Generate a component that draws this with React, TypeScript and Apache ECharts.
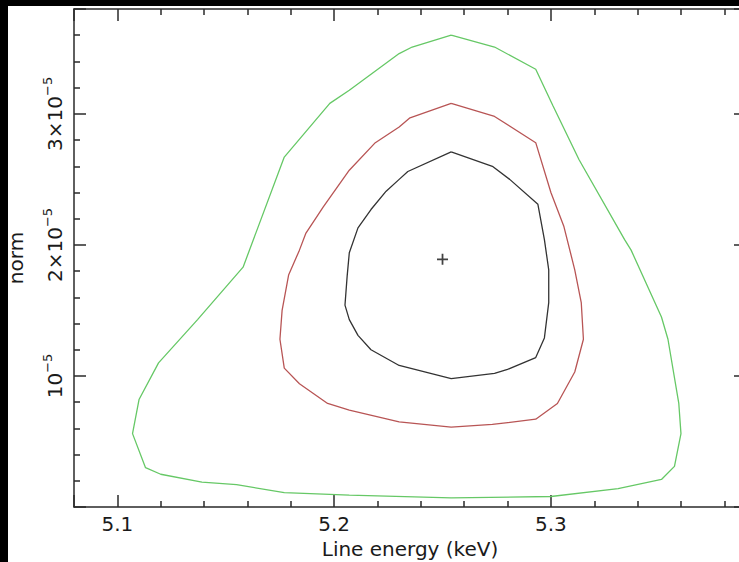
import React, { useEffect, useRef } from 'react';
import * as echarts from 'echarts';

// Axis ranges (norm in units of 1e-5)
const X_MIN = 5.08;
const X_MAX = 5.39;
const Y_MIN = 0;
const Y_MAX = 3.8;

const X_TICK_VALUES = [5.1, 5.2, 5.3];
const X_TICK_LABELS = ['5.1', '5.2', '5.3'];
const Y_TICK_VALUES = [1, 2, 3];
const Y_TICK_MANTISSA = ['10', '2×10', '3×10'];
const Y_TICK_EXPONENT = ['−5', '−5', '−5'];

// 99% contour (green)
const GREEN_X = [5.254, 5.236, 5.230, 5.207, 5.198, 5.177, 5.158, 5.137, 5.119, 5.110, 5.107, 5.113, 5.120, 5.139, 5.155, 5.177, 5.207, 5.254, 5.300, 5.331, 5.351, 5.357, 5.360, 5.359, 5.354, 5.351, 5.337, 5.334, 5.313, 5.301, 5.293, 5.274];
const GREEN_Y = [3.60, 3.51, 3.46, 3.18, 3.08, 2.67, 1.83, 1.43, 1.10, 0.82, 0.56, 0.30, 0.25, 0.19, 0.17, 0.11, 0.09, 0.07, 0.08, 0.14, 0.21, 0.31, 0.56, 0.79, 1.28, 1.45, 1.96, 2.04, 2.65, 3.06, 3.34, 3.51];

// 90% contour (red)
const RED_X = [5.254, 5.235, 5.230, 5.219, 5.207, 5.195, 5.187, 5.184, 5.179, 5.176, 5.175, 5.177, 5.184, 5.197, 5.207, 5.230, 5.254, 5.273, 5.293, 5.303, 5.311, 5.315, 5.314, 5.311, 5.306, 5.300, 5.293, 5.274];
const RED_Y = [3.08, 2.97, 2.90, 2.78, 2.57, 2.29, 2.09, 1.96, 1.77, 1.50, 1.28, 1.06, 0.94, 0.79, 0.74, 0.65, 0.61, 0.63, 0.67, 0.79, 1.03, 1.28, 1.56, 1.81, 2.14, 2.40, 2.78, 2.98];

// 68% contour (black)
const BLACK_X = [5.254, 5.234, 5.230, 5.224, 5.217, 5.211, 5.207, 5.206, 5.205, 5.207, 5.211, 5.217, 5.230, 5.254, 5.274, 5.280, 5.293, 5.297, 5.299, 5.299, 5.297, 5.294, 5.281, 5.273];
const BLACK_Y = [2.71, 2.56, 2.50, 2.41, 2.27, 2.13, 1.94, 1.76, 1.54, 1.43, 1.31, 1.20, 1.08, 0.98, 1.02, 1.05, 1.14, 1.29, 1.56, 1.81, 2.04, 2.31, 2.50, 2.60];

// best fit
const BEST_X = [5.250];
const BEST_Y = [1.89];

const closed = (xs: number[], ys: number[]) => {
  const pts = xs.map((x, i) => [x, ys[i]]);
  pts.push([xs[0], ys[0]]);
  return pts;
};

export default function App() {
  const ref = useRef<HTMLDivElement>(null);

  useEffect(() => {
    if (!ref.current) return;
    const chart = echarts.init(ref.current, null, { renderer: 'svg' });
    const axisColor = '#2a2a2a';
    const textColor = '#1a1a1a';
    const font = 'DejaVu Sans';
    const find = (v: number, list: number[]) => list.findIndex((m) => Math.abs(m - v) < 1e-6);
    const xFmt = (v: number) => {
      const i = find(v, X_TICK_VALUES);
      return i >= 0 ? X_TICK_LABELS[i] : '';
    };
    const yFmt = (v: number) => {
      const i = find(v, Y_TICK_VALUES);
      return i >= 0 ? `{b|${Y_TICK_MANTISSA[i]}}{s|${Y_TICK_EXPONENT[i]}}` : '';
    };
    const lineStyle = { color: axisColor, width: 1.5 };
    const axisBase = {
      type: 'value',
      axisLine: { show: true, onZero: false, lineStyle },
      axisTick: { show: true, inside: true, length: 12, lineStyle },
      minorTick: { show: true, splitNumber: 5, length: 6, lineStyle },
      splitLine: { show: false },
      minorSplitLine: { show: false },
    };
    const xBase = { ...axisBase, min: X_MIN, max: X_MAX, splitNumber: 3 };
    const yBase = { ...axisBase, min: Y_MIN, max: Y_MAX, interval: 1 };

    chart.setOption({
      animation: false,
      backgroundColor: '#ffffff',
      grid: { left: 74, top: 9, right: -7, bottom: 55, containLabel: false, outerBoundsMode: 'none' },
      xAxis: [
        {
          ...xBase,
          position: 'bottom',
          axisLabel: {
            show: true,
            formatter: xFmt,
            margin: 7,
            fontSize: 20,
            fontFamily: font,
            color: textColor,
            showMinLabel: true,
            showMaxLabel: true,
          },
          name: 'Line energy (keV)',
          nameLocation: 'middle',
          nameGap: 26,
          nameTextStyle: { fontSize: 20, fontFamily: font, color: textColor },
        },
        {
          ...xBase,
          position: 'top',
          axisLabel: { show: false },
        },
      ],
      yAxis: [
        {
          ...yBase,
          position: 'left',
          axisLabel: {
            show: true,
            formatter: yFmt,
            rotate: 90,
            margin: 5,
            fontFamily: font,
            color: textColor,
            rich: {
              b: { fontSize: 20, lineHeight: 28, fontFamily: font, color: textColor },
              s: { fontSize: 13, lineHeight: 13, verticalAlign: 'top', fontFamily: font, color: textColor },
            },
          },
          name: 'norm',
          nameLocation: 'middle',
          nameRotate: 90,
          nameGap: 48,
          nameTextStyle: { fontSize: 20, fontFamily: font, color: textColor },
        },
        {
          ...yBase,
          position: 'right',
          axisLabel: { show: false },
        },
      ],
      series: [
        {
          type: 'line',
          name: '99%',
          data: closed(GREEN_X, GREEN_Y),
          showSymbol: false,
          symbol: 'none',
          lineStyle: { color: '#66c866', width: 1.3 },
        },
        {
          type: 'line',
          name: '90%',
          data: closed(RED_X, RED_Y),
          showSymbol: false,
          symbol: 'none',
          lineStyle: { color: '#b85555', width: 1.3 },
        },
        {
          type: 'line',
          name: '68%',
          data: closed(BLACK_X, BLACK_Y),
          showSymbol: false,
          symbol: 'none',
          lineStyle: { color: '#333333', width: 1.3 },
        },
        {
          type: 'scatter',
          name: 'best fit',
          data: BEST_X.map((x, i) => [x, BEST_Y[i]]),
          symbol: 'path://M4.2,0H5.8V4.2H10V5.8H5.8V10H4.2V5.8H0V4.2H4.2Z',
          symbolSize: 11,
          itemStyle: { color: '#111' },
        },
      ],
    });
    return () => chart.dispose();
  }, []);

  return (
    <div style={{ position: 'absolute', left: 0, top: 0, width: 739, height: 562, background: '#fff', overflow: 'hidden' }}>
      <div ref={ref} style={{ position: 'absolute', left: 0, top: 0, width: 739, height: 562 }} />
      <div style={{ position: 'absolute', left: 0, top: 0, width: 8, height: 562, background: '#000', zIndex: 2 }} />
      <div style={{ position: 'absolute', left: 0, top: 0, width: 739, height: 6, background: '#000', zIndex: 2 }} />
    </div>
  );
}
